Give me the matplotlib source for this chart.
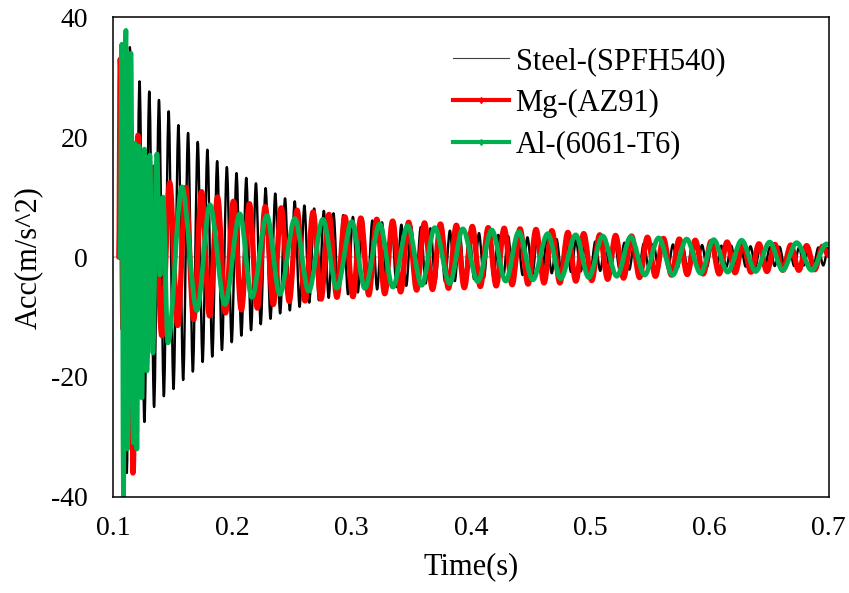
import numpy as np
import matplotlib
matplotlib.use("Agg")
import matplotlib.pyplot as plt
from matplotlib.lines import Line2D
from matplotlib.path import Path
from matplotlib.patches import PathPatch

plt.rcParams['font.family'] = ['Liberation Serif', 'DejaVu Serif']
plt.rcParams['axes.unicode_minus'] = False

# Steel-(SPFH540): extrema (time s, acc m/s^2)
steel_t = [0.1050, 0.1075, 0.1095, 0.1117,
           0.1142, 0.1183, 0.1223, 0.1264, 0.1305, 0.1345, 0.1386, 0.1427, 0.1467, 0.1508,
           0.1549, 0.1589, 0.1630, 0.1670, 0.1711, 0.1752, 0.1792, 0.1833, 0.1874, 0.1914,
           0.1955, 0.1996, 0.2036, 0.2077, 0.2118, 0.2158, 0.2199, 0.2239, 0.2280, 0.2321,
           0.2361, 0.2402, 0.2443, 0.2483, 0.2524, 0.2565, 0.2605, 0.2646, 0.2687, 0.2727,
           0.2768, 0.2809, 0.2849, 0.2890, 0.2931, 0.2971, 0.3012, 0.3053, 0.3093, 0.3134,
           0.3175, 0.3215, 0.3256, 0.3296, 0.3337, 0.3378, 0.3418, 0.3459, 0.3500, 0.3540,
           0.3581, 0.3622, 0.3662, 0.3703, 0.3744, 0.3784, 0.3825, 0.3866, 0.3906, 0.3947,
           0.3988, 0.4028, 0.4069, 0.4110, 0.4150, 0.4191, 0.4231, 0.4272, 0.4313, 0.4353,
           0.4394, 0.4435, 0.4475, 0.4516, 0.4557, 0.4597, 0.4638, 0.4679, 0.4719, 0.4760,
           0.4801, 0.4841, 0.4882, 0.4922, 0.4963, 0.5004, 0.5044, 0.5085, 0.5126, 0.5166,
           0.5207, 0.5248, 0.5288, 0.5329, 0.5370, 0.5410, 0.5451, 0.5492, 0.5532, 0.5573,
           0.5614, 0.5654, 0.5695, 0.5735, 0.5776, 0.5817, 0.5857, 0.5898, 0.5939, 0.5979,
           0.6020, 0.6061, 0.6101, 0.6142, 0.6183, 0.6223, 0.6264, 0.6305, 0.6345, 0.6386,
           0.6426, 0.6467, 0.6508, 0.6548, 0.6589, 0.6630, 0.6670, 0.6711, 0.6752, 0.6792,
           0.6833, 0.6874, 0.6914, 0.6955, 0.6996]
steel_a = [0.0, 15.0, -20.0, -36.0,
           35.0, -31.0, 29.3, -27.5, 27.6, -25.0, 26.2, -23.2, 24.3, -22.0,
           22.0, -20.5, 20.7, -19.1, 19.2, -17.5, 17.9, -16.6, 16.0, -15.5,
           15.0, -14.2, 14.0, -13.1, 13.2, -12.2, 12.3, -11.2, 11.5, -10.3,
           10.6, -9.4, 9.8, -8.9, 9.3, -8.3, 8.6, -7.6, 8.1, -7.2,
           7.7, -6.8, 7.3, -6.5, 7.0, -6.2, 6.7, -5.9, 6.4, -5.6,
           6.1, -5.4, 5.8, -5.2, 5.6, -5.0, 5.4, -4.8, 5.2, -4.6,
           5.0, -4.4, 4.8, -4.3, 4.6, -4.1, 4.4, -4.0, 4.3, -3.8,
           4.1, -3.7, 4.0, -3.5, 3.8, -3.4, 3.7, -3.3, 3.5, -3.1,
           3.4, -3.0, 3.3, -2.9, 3.2, -2.8, 3.1, -2.7, 3.0, -2.6,
           2.9, -2.5, 2.8, -2.4, 2.7, -2.3, 2.6, -2.3, 2.5, -2.2,
           2.5, -2.1, 2.4, -2.1, 2.3, -2.0, 2.3, -2.0, 2.2, -1.9,
           2.2, -1.9, 2.1, -1.8, 2.1, -1.8, 2.0, -1.8, 2.0, -1.7,
           1.9, -1.7, 1.9, -1.7, 1.9, -1.6, 1.8, -1.6, 1.8, -1.6,
           1.8, -1.5, 1.7, -1.5, 1.7, -1.5, 1.7, -1.5, 1.6, -1.4,
           1.6, -1.4, 1.6, -1.4, 1.5]

# Mg-(AZ91)
mg_t = [0.1050, 0.1062, 0.1085, 0.1105, 0.1130, 0.1150, 0.1168,
        0.1210, 0.1277, 0.1343, 0.1410, 0.1476, 0.1543, 0.1610, 0.1677, 0.1743, 0.1810,
        0.1877, 0.1944, 0.2010, 0.2077, 0.2144, 0.2211, 0.2277, 0.2344, 0.2411, 0.2478,
        0.2544, 0.2611, 0.2678, 0.2745, 0.2811, 0.2878, 0.2945, 0.3012, 0.3078, 0.3145,
        0.3212, 0.3279, 0.3345, 0.3412, 0.3479, 0.3546, 0.3612, 0.3679, 0.3746, 0.3813,
        0.3879, 0.3946, 0.4013, 0.4080, 0.4146, 0.4213, 0.4280, 0.4347, 0.4413, 0.4480,
        0.4547, 0.4614, 0.4680, 0.4747, 0.4814, 0.4881, 0.4947, 0.5014, 0.5081, 0.5148,
        0.5214, 0.5281, 0.5348, 0.5415, 0.5481, 0.5548, 0.5615, 0.5682, 0.5748, 0.5815,
        0.5882, 0.5949, 0.6015, 0.6082, 0.6149, 0.6216, 0.6282, 0.6349, 0.6416, 0.6483,
        0.6549, 0.6616, 0.6683, 0.6750, 0.6816, 0.6883, 0.6950, 0.7000]
mg_a = [0.0, 33.0, -12.0, 28.0, -20.0, 22.0, -36.0,
        20.3, -18.0, 15.0, -13.1, 12.4, -11.4, 11.6, -10.4, 10.9, -9.8,
        10.0, -9.3, 9.3, -8.8, 8.9, -8.5, 8.4, -7.9, 8.2, -7.4,
        7.8, -7.3, 7.5, -7.0, 7.1, -6.7, 6.7, -6.6, 6.5, -6.3,
        6.3, -6.1, 6.0, -5.8, 5.8, -5.5, 5.7, -5.4, 5.5, -5.2,
        5.3, -5.1, 5.1, -4.9, 4.9, -4.8, 4.8, -4.6, 4.7, -4.5,
        4.6, -4.3, 4.4, -4.3, 4.1, -4.0, 3.9, -3.9, 3.7, -3.7,
        3.6, -3.5, 3.5, -3.4, 3.3, -3.2, 3.1, -3.0, 3.0, -2.9,
        2.8, -2.8, 2.6, -2.8, 2.5, -2.6, 2.3, -2.5, 2.2, -2.4,
        2.1, -2.2, 2.0, -2.2, 1.9, -2.1, 1.8, 0.3]

# Al-(6061-T6)
al_t = [0.1060, 0.1075, 0.1088, 0.1109, 0.1122, 0.1151, 0.1172, 0.1184, 0.1201, 0.1218,
        0.1243, 0.1264, 0.1285, 0.1310, 0.1335, 0.1369, 0.1395, 0.1420, 0.1461, 0.1578,
        0.1704, 0.1813, 0.1939, 0.2064, 0.2165, 0.2291, 0.2399, 0.2525, 0.2642, 0.2760,
        0.2877, 0.3003, 0.3112, 0.3237, 0.3346, 0.3472, 0.3589, 0.3698, 0.3824, 0.3933,
        0.4059, 0.4176, 0.4293, 0.4402, 0.4520, 0.4645, 0.4754, 0.4880, 0.4989, 0.5106,
        0.5224, 0.5341, 0.5458, 0.5575, 0.5693, 0.5810, 0.5927, 0.6036, 0.6154, 0.6271,
        0.6388, 0.6506, 0.6615, 0.6732, 0.6858, 0.6983, 0.7000]
al_a = [0.0, 35.5, -40.0, 37.8, -32.0, 34.0, -31.0, 19.0, -32.0, 18.5,
        -23.5, 18.0, -19.0, 17.0, -16.0, 17.2, -3.0, 10.0, -14.3, 11.7,
        -8.9, 8.7, -7.9, 7.2, -6.7, 6.9, -6.2, 6.4, -5.7, 6.3,
        -5.2, 5.9, -5.2, 5.5, -5.0, 5.2, -4.7, 4.9, -4.4, 4.7,
        -4.1, 4.5, -4.0, 4.2, -3.8, 3.9, -3.6, 3.7, -3.4, 3.5,
        -3.2, 3.4, -3.0, 3.2, -3.0, 3.0, -2.7, 2.9, -2.5, 2.8,
        -2.4, 2.5, -2.2, 2.4, -2.2, 2.2, 2.1]

labels = ['Steel-(SPFH540)', 'Mg-(AZ91)', 'Al-(6061-T6)']
colors = ['black', '#ff0000', '#00b050']


# smoothed line through the points (like Excel's smoothed line)
def smooth_line(ax, t, a, color, lw, z):
    verts = [(t[0], a[0])]
    codes = [Path.MOVETO]
    for i in range(1, len(t)):
        dt = (t[i] - t[i-1]) / 3.0
        verts += [(t[i-1] + dt, a[i-1]), (t[i] - dt, a[i]), (t[i], a[i])]
        codes += [Path.CURVE4] * 3
    patch = PathPatch(Path(verts, codes), facecolor='none', edgecolor=color,
                      lw=lw, zorder=z, joinstyle='round', capstyle='round')
    ax.add_patch(patch)


fig = plt.figure(figsize=(8.49, 5.93), dpi=100)
ax = fig.add_axes([0.133, 0.162, 0.843, 0.809])

ax.axhline(0, color='#bfbfbf', lw=1.2, zorder=1)
smooth_line(ax, steel_t, steel_a, colors[0], 1.7, 2)
smooth_line(ax, mg_t, mg_a, colors[1], 3.9, 3)
smooth_line(ax, al_t, al_a, colors[2], 3.4, 4)

ax.set_xlim(0.1, 0.7)
ax.set_ylim(-40, 40)
ax.set_xticks([0.1, 0.2, 0.3, 0.4, 0.5, 0.6, 0.7])
ax.set_xticklabels(['0.1', '0.2', '0.3', '0.4', '0.5', '0.6', '0.7'])
ax.set_yticks([-40, -20, 0, 20, 40])
ax.tick_params(axis='both', length=0, labelsize=20)
ax.tick_params(axis='x', pad=14)
ax.tick_params(axis='y', pad=18)
for s in ax.spines.values():
    s.set_linewidth(1.1)
    s.set_color('black')
    s.set_zorder(5)

ax.set_xlabel('Time(s)', fontsize=22, labelpad=8)
ax.set_ylabel('Acc(m/s^2)', fontsize=22, labelpad=6)

handles = [Line2D([], [], color='#404040', lw=0.8),
           Line2D([], [], color=colors[1], lw=3, marker='d', ms=3),
           Line2D([], [], color=colors[2], lw=3, marker='d', ms=3)]
ax.legend(handles, labels, loc='upper left', bbox_to_anchor=(0.475, 0.938),
          frameon=False, fontsize=22, handlelength=1.85, handletextpad=0.2,
          labelspacing=0.42, borderpad=0, borderaxespad=0)

fig.savefig('out.png', dpi=100)
